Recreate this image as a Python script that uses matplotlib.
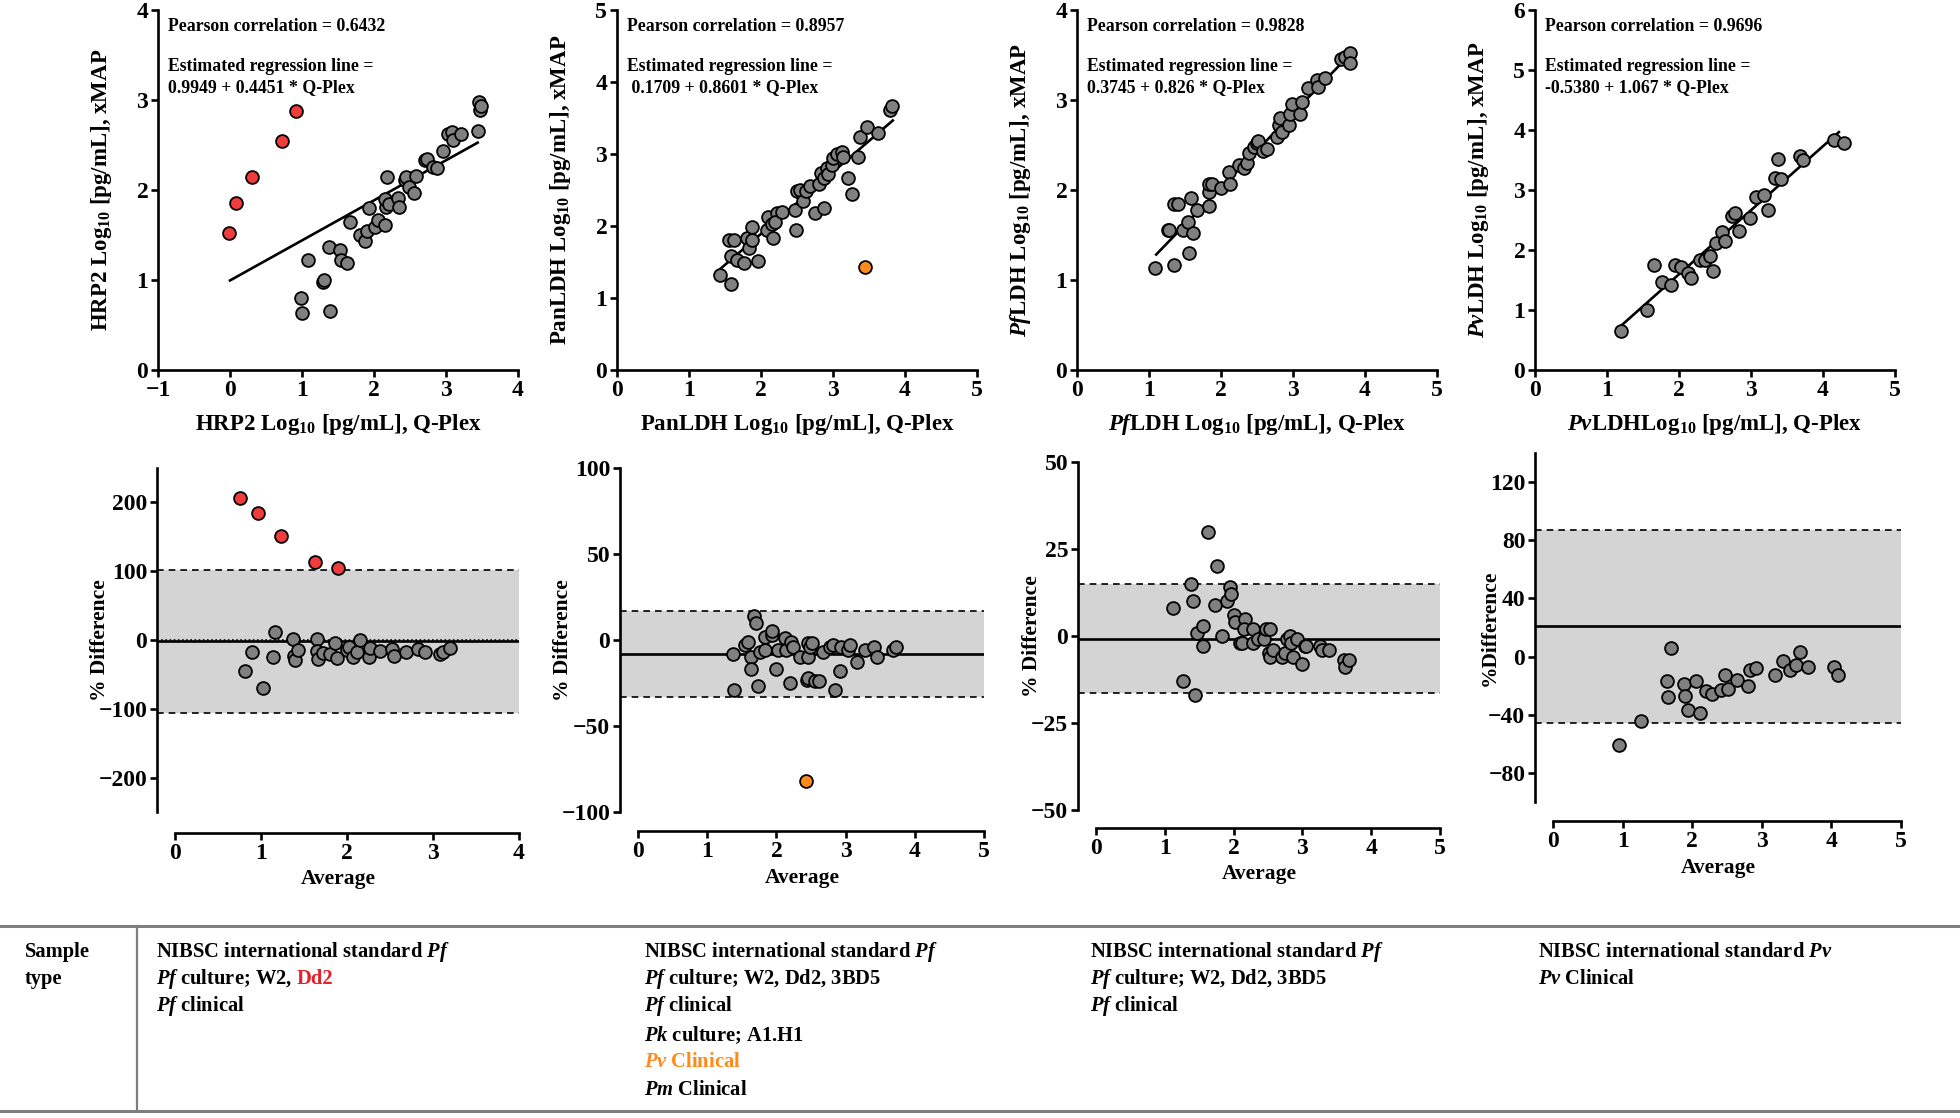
import numpy as np
import matplotlib
matplotlib.use("Agg")
import matplotlib.pyplot as plt

plt.rcParams['font.family'] = ['Liberation Serif', 'DejaVu Serif']
plt.rcParams['font.weight'] = 'bold'
plt.rcParams['mathtext.fontset'] = 'custom'
plt.rcParams['mathtext.rm'] = 'Liberation Serif:bold'
plt.rcParams['mathtext.it'] = 'Liberation Serif:italic:bold'
plt.rcParams['mathtext.bf'] = 'Liberation Serif:bold'

# ---------------- data: scatter (Q-Plex vs xMAP) ----------------
hrp2_x = [0.98, 1.00, 1.09, 1.29, 1.31, 1.37, 1.39, 1.53, 1.54, 1.62, 1.66, 1.81, 1.88, 1.90,
          1.93, 2.01, 2.05, 2.15, 2.17, 2.18, 2.15, 2.21, 2.34, 2.35, 2.43, 2.45, 2.48, 2.56,
          2.59, 2.71, 2.73, 2.82, 2.87, 2.96, 3.03, 3.09, 3.10, 3.21, 3.44, 3.46, 3.47, 3.48]
hrp2_y = [0.80, 0.63, 1.22, 0.98, 1.00, 1.37, 0.66, 1.33, 1.22, 1.19, 1.65, 1.50, 1.43, 1.55,
          1.80, 1.59, 1.67, 1.61, 1.81, 2.14, 1.90, 1.85, 1.91, 1.81, 2.11, 2.15, 2.03, 1.97,
          2.16, 2.33, 2.35, 2.26, 2.24, 2.43, 2.62, 2.64, 2.56, 2.62, 2.66, 2.98, 2.89, 2.93]
hrp2_red_x = [-0.02, 0.08, 0.31, 0.72, 0.92]
hrp2_red_y = [1.52, 1.86, 2.14, 2.54, 2.88]

pan_x = [1.43, 1.59, 1.56, 1.62, 1.59, 1.66, 1.76, 1.80, 1.84, 1.88, 1.88, 1.96, 2.08, 2.10,
         2.17, 2.15, 2.22, 2.19, 2.29, 2.47, 2.49, 2.50, 2.54, 2.59, 2.63, 2.68, 2.75, 2.80,
         2.87, 2.84, 2.91, 2.87, 2.93, 2.98, 3.00, 3.05, 3.12, 3.14, 3.21, 3.26, 3.35, 3.38,
         3.47, 3.63, 3.79, 3.82]
pan_y = [1.32, 1.19, 1.80, 1.80, 1.58, 1.53, 1.48, 1.84, 1.69, 1.99, 1.80, 1.51, 1.94, 2.13,
         1.83, 2.03, 2.18, 2.05, 2.20, 2.22, 1.94, 2.48, 2.50, 2.35, 2.48, 2.55, 2.18, 2.59,
         2.25, 2.73, 2.80, 2.66, 2.72, 2.85, 2.95, 3.00, 3.03, 2.96, 2.66, 2.45, 2.96, 3.24,
         3.38, 3.29, 3.61, 3.67]
pan_orange_x = [3.44]
pan_orange_y = [1.43]

pf_x = [1.08, 1.27, 1.28, 1.35, 1.35, 1.40, 1.47, 1.54, 1.56, 1.58, 1.61, 1.67, 1.83, 1.83,
        1.83, 1.88, 2.00, 2.11, 2.13, 2.25, 2.32, 2.36, 2.39, 2.46, 2.50, 2.52, 2.59, 2.64,
        2.78, 2.80, 2.82, 2.85, 2.94, 2.96, 2.98, 3.10, 3.12, 3.21, 3.33, 3.35, 3.44, 3.67,
        3.72, 3.79, 3.79]
pf_y = [1.13, 1.56, 1.56, 1.85, 1.17, 1.85, 1.56, 1.65, 1.30, 1.91, 1.52, 1.78, 1.82, 1.98,
        2.07, 2.07, 2.02, 2.20, 2.07, 2.28, 2.24, 2.30, 2.41, 2.48, 2.52, 2.54, 2.43, 2.46,
        2.59, 2.72, 2.80, 2.65, 2.72, 2.85, 2.96, 2.85, 2.98, 3.13, 3.22, 3.15, 3.25, 3.46,
        3.48, 3.52, 3.41]

pv_x = [1.20, 1.55, 1.65, 1.77, 1.89, 1.94, 2.03, 2.12, 2.17, 2.29, 2.36, 2.43, 2.47, 2.52,
        2.60, 2.64, 2.74, 2.78, 2.83, 2.99, 3.07, 3.18, 3.23, 3.33, 3.37, 3.42, 3.68, 3.72,
        4.15, 4.29]
pv_y = [0.65, 1.00, 1.75, 1.46, 1.42, 1.75, 1.71, 1.62, 1.54, 1.83, 1.83, 1.90, 1.65, 2.12,
        2.30, 2.15, 2.56, 2.62, 2.31, 2.54, 2.88, 2.92, 2.67, 3.20, 3.52, 3.19, 3.56, 3.50,
        3.83, 3.79]

# regression lines: intercept, slope, x range
reg_a = [0.9949, 0.1709, 0.3745, -0.5380]
reg_b = [0.4451, 0.8601, 0.826, 1.067]
reg_x0 = [0.0, 1.43, 1.10, 1.20]
reg_x1 = [3.44, 3.83, 3.80, 4.22]

# ---------------- data: Bland-Altman (% difference) ----------------
ba1_x = [0.81, 0.89, 1.02, 1.14, 1.16, 1.37, 1.38, 1.40, 1.43, 1.65, 1.65, 1.66, 1.72, 1.80,
         1.86, 1.88, 2.00, 2.02, 2.07, 2.12, 2.15, 2.25, 2.27, 2.38, 2.52, 2.55, 2.69, 2.82,
         2.91, 3.08, 3.12, 3.20]
ba1_y = [-45, -18, -70, -25, 12, 2, -23, -29, -14, 1, -16, -27, -19, -21, -5, -26, -14, -10,
         -24, -18, 0, -24, -11, -16, -13, -23, -18, -13, -18, -20, -18, -12]
ba1_red_x = [0.75, 0.97, 1.23, 1.63, 1.90]
ba1_red_y = [206, 185, 151, 114, 105]

ba2_x = [1.38, 1.39, 1.55, 1.59, 1.63, 1.63, 1.67, 1.71, 1.74, 1.76, 1.84, 1.84, 1.93, 1.94,
         2.00, 2.03, 2.12, 2.14, 2.20, 2.21, 2.24, 2.34, 2.44, 2.46, 2.46, 2.49, 2.51, 2.46,
         2.56, 2.61, 2.68, 2.78, 2.82, 2.85, 2.92, 2.94, 3.04, 3.06, 3.16, 3.28, 3.41, 3.46,
         3.69, 3.73]
ba2_y = [-8, -29, -3, -1, -10, -17, 14, 10, -27, -7, 2, -6, 3, 5, -17, -6, 1, -6, -25, -1,
         -4, -10, -23, -2, -10, -4, -2, -22, -24, -24, -7, -4, -3, -29, -18, -4, -6, -3, -13,
         -6, -4, -10, -6, -4]
ba2_orange_x = [2.43]
ba2_orange_y = [-82]

ba3_x = [1.12, 1.27, 1.38, 1.41, 1.44, 1.47, 1.55, 1.56, 1.63, 1.73, 1.76, 1.83, 1.91, 1.95,
         1.97, 2.01, 2.02, 2.09, 2.13, 2.17, 2.15, 2.29, 2.29, 2.35, 2.44, 2.47, 2.53, 2.51,
         2.53, 2.58, 2.70, 2.75, 2.77, 2.82, 2.84, 2.86, 2.92, 2.99, 3.04, 3.06, 3.26, 3.28,
         3.38, 3.61, 3.62, 3.68]
ba3_y = [8, -13, 15, 10, -17, 1, 3, -3, 30, 9, 20, 0, 10, 14, 12, 6, 4, -2, -2, 5, 2, 2, -2,
         -1, -1, 2, 2, -5, -6, -4, -6, -5, -1, 0, -2, -6, -1, -8, -3, -3, -3, -4, -4, -7, -9,
         -7]

ba4_x = [0.95, 1.27, 1.70, 1.63, 1.65, 1.88, 1.90, 1.94, 2.06, 2.11, 2.20, 2.29, 2.42, 2.47,
         2.51, 2.65, 2.80, 2.83, 2.92, 3.19, 3.30, 3.40, 3.49, 3.55, 3.67, 4.03, 4.10]
ba4_y = [-61, -44, 6, -17, -28, -19, -27, -37, -17, -39, -24, -26, -23, -13, -22, -16, -20,
         -9, -8, -13, -3, -9, -6, 3, -7, -7, -13]

# mean bias and limits of agreement
ba_mean = [-2, -8, -0.8, 20.7]
ba_upper = [102, 17, 14.8, 87]
ba_lower = [-106, -33, -16.4, -45.5]

# ---------------- text ----------------
pearson = ["0.6432", "0.8957", "0.9828", "0.9696"]
reg_text = ["0.9949 + 0.4451 * Q-Plex", " 0.1709 + 0.8601 * Q-Plex",
            "0.3745 + 0.826 * Q-Plex", "-0.5380 + 1.067 * Q-Plex"]
top_ylabels = ["HRP2 Log$_{10}$ [pg/mL], xMAP", "PanLDH Log$_{10}$ [pg/mL], xMAP",
               r"$\it{Pf}$LDH Log$_{10}$ [pg/mL], xMAP", r"$\it{Pv}$LDH Log$_{10}$ [pg/mL], xMAP"]
top_xlabels = ["HRP2 Log$_{10}$ [pg/mL], Q-Plex", "PanLDH Log$_{10}$ [pg/mL], Q-Plex",
               r"$\it{Pf}$LDH Log$_{10}$ [pg/mL], Q-Plex", r"$\it{Pv}$LDHLog$_{10}$ [pg/mL], Q-Plex"]
bot_ylabels = ["% Difference", "% Difference", "% Difference", "%Difference"]

GRAY = "#808080"
RED = "#f03c3c"
ORANGE = "#ff8a1c"

W, H = 1960, 1118
fig = plt.figure(figsize=(W / 100, H / 100), dpi=100)


def rect(l, t, r, b):
    return [l / W, 1 - b / H, (r - l) / W, (b - t) / H]


def style(ax):
    for s in ['top', 'right']:
        ax.spines[s].set_visible(False)
    for s in ['left', 'bottom']:
        ax.spines[s].set_linewidth(1.9)
    ax.tick_params(direction='out', length=5, width=1.9, labelsize=17, pad=2)
    for lab in ax.get_xticklabels() + ax.get_yticklabels():
        lab.set_fontweight('bold')


def dots(ax, x, y, color=GRAY):
    ax.scatter(x, y, s=85, facecolor=color, edgecolor='black', linewidth=1.3,
               zorder=4, clip_on=False)


# ---------------- top row ----------------
top_left = [158, 617, 1077, 1535]
top_xlim = [(-1, 4), (0, 5), (0, 5), (0, 5)]
top_ylim = [(0, 4), (0, 5), (0, 4), (0, 6)]
top_sets = [(hrp2_x, hrp2_y), (pan_x, pan_y), (pf_x, pf_y), (pv_x, pv_y)]

for i in range(4):
    ax = fig.add_axes(rect(top_left[i], 10, top_left[i] + 360, 370))
    ax.set_xlim(*top_xlim[i])
    ax.set_ylim(*top_ylim[i])
    ax.set_xticks(np.arange(top_xlim[i][0], top_xlim[i][1] + 1))
    ax.set_yticks(np.arange(top_ylim[i][0], top_ylim[i][1] + 1))
    style(ax)
    xx = np.array([reg_x0[i], reg_x1[i]])
    ax.plot(xx, reg_a[i] + reg_b[i] * xx, color='black', lw=1.9, zorder=3)
    dots(ax, *top_sets[i])
    if i == 0:
        dots(ax, hrp2_red_x, hrp2_red_y, RED)
    if i == 1:
        dots(ax, pan_orange_x, pan_orange_y, ORANGE)
    ax.text(0.028, 0.953, "Pearson correlation = " + pearson[i], transform=ax.transAxes,
            fontsize=12.8, fontweight='bold', va='center')
    ax.text(0.028, 0.842, "Estimated regression line =", transform=ax.transAxes,
            fontsize=12.8, fontweight='bold', va='center')
    ax.text(0.028, 0.786, reg_text[i], transform=ax.transAxes,
            fontsize=12.8, fontweight='bold', va='center')
    ax.set_xlabel(top_xlabels[i], fontsize=16.5, fontweight='bold', labelpad=8)
    ax.set_ylabel(top_ylabels[i], fontsize=16.5, fontweight='bold', labelpad=16)

# ---------------- bottom row ----------------
bot_box = [(157, 468, 519, 812), (620, 468, 984, 812), (1078, 462, 1440, 810),
           (1535, 453, 1901, 802)]
bot_xlo = [-0.21, -0.26, -0.26, -0.26]
bot_xhi = [4, 5, 5, 5]
bot_ylim = [(-250, 250), (-100, 100), (-50, 50), (-100, 140)]
bot_yticks = [[-200, -100, 0, 100, 200], [-100, -50, 0, 50, 100], [-50, -25, 0, 25, 50],
              [-80, -40, 0, 40, 80, 120]]
bot_off = [15, 14, 13, 14]
bot_sets = [(ba1_x, ba1_y), (ba2_x, ba2_y), (ba3_x, ba3_y), (ba4_x, ba4_y)]

for i in range(4):
    l, t, r, b = bot_box[i]
    ax = fig.add_axes(rect(l, t, r, b))
    ax.set_xlim(bot_xlo[i], bot_xhi[i])
    ax.set_ylim(*bot_ylim[i])
    ax.set_xticks(np.arange(0, bot_xhi[i] + 1))
    ax.set_yticks(bot_yticks[i])
    style(ax)
    ax.spines['bottom'].set_position(('outward', bot_off[i]))
    ax.spines['bottom'].set_bounds(0, bot_xhi[i])
    ax.axhspan(ba_lower[i], ba_upper[i], color='#d4d4d4', zorder=0, lw=0)
    ax.axhline(ba_upper[i], color='black', lw=1.2, ls=(0, (4, 3)), zorder=2)
    ax.axhline(ba_lower[i], color='black', lw=1.2, ls=(0, (4, 3)), zorder=2)
    ax.axhline(ba_mean[i], color='black', lw=1.9, zorder=2)
    if i == 0:
        ax.axhline(0, color='black', lw=1.2, ls=(0, (1, 1.5)), zorder=2)
    dots(ax, *bot_sets[i])
    if i == 0:
        dots(ax, ba1_red_x, ba1_red_y, RED)
    if i == 1:
        dots(ax, ba2_orange_x, ba2_orange_y, ORANGE)
    ax.set_xlabel("Average", fontsize=15.5, fontweight='bold', labelpad=4)
    ax.set_ylabel(bot_ylabels[i], fontsize=15.5, fontweight='bold', labelpad=-8)

# ---------------- sample-type table ----------------
line_ax = fig.add_axes([0, 0, 1, 1], zorder=-1)
line_ax.set_xlim(0, W)
line_ax.set_ylim(H, 0)
line_ax.axis('off')
line_ax.plot([0, W], [926, 926], color='#7f7f7f', lw=2.2)
line_ax.plot([0, W], [1111, 1111], color='#7f7f7f', lw=2.2)
line_ax.plot([137, 137], [926, 1111], color='#7f7f7f', lw=1.6)

row_y = [952, 979, 1006, 1035, 1062, 1090]
col_x = [156, 644, 1090, 1538]
col_lines = [
    [r"NIBSC international standard $\it{Pf}$", r"$\it{Pf}$ culture; W2, ", r"$\it{Pf}$ clinical"],
    [r"NIBSC international standard $\it{Pf}$", r"$\it{Pf}$ culture; W2, Dd2, 3BD5",
     r"$\it{Pf}$ clinical", r"$\it{Pk}$ culture; A1.H1", r"$\it{Pv}$ Clinical", r"$\it{Pm}$ Clinical"],
    [r"NIBSC international standard $\it{Pf}$", r"$\it{Pf}$ culture; W2, Dd2, 3BD5",
     r"$\it{Pf}$ clinical"],
    [r"NIBSC international standard $\it{Pv}$", r"$\it{Pv}$ Clinical"],
]

TFS = 14.8
fig.text(25 / W, 1 - 952 / H, "Sample", fontsize=TFS, fontweight='bold', va='center')
fig.text(25 / W, 1 - 979 / H, "type", fontsize=TFS, fontweight='bold', va='center')
renderer = fig.canvas.get_renderer()
for c, lines in enumerate(col_lines):
    for k, s in enumerate(lines):
        color = ORANGE if (c == 1 and k == 4) else 'black'
        t = fig.text(col_x[c] / W, 1 - row_y[k] / H, s, fontsize=TFS, fontweight='bold',
                     va='center', color=color)
        if c == 0 and k == 1:
            bb = t.get_window_extent(renderer=renderer)
            fig.text(bb.x1 / W + 4 / W, 1 - row_y[k] / H, "Dd2", fontsize=TFS,
                     fontweight='bold', va='center', color='#e8202a')

fig.savefig("out.png", dpi=100)
